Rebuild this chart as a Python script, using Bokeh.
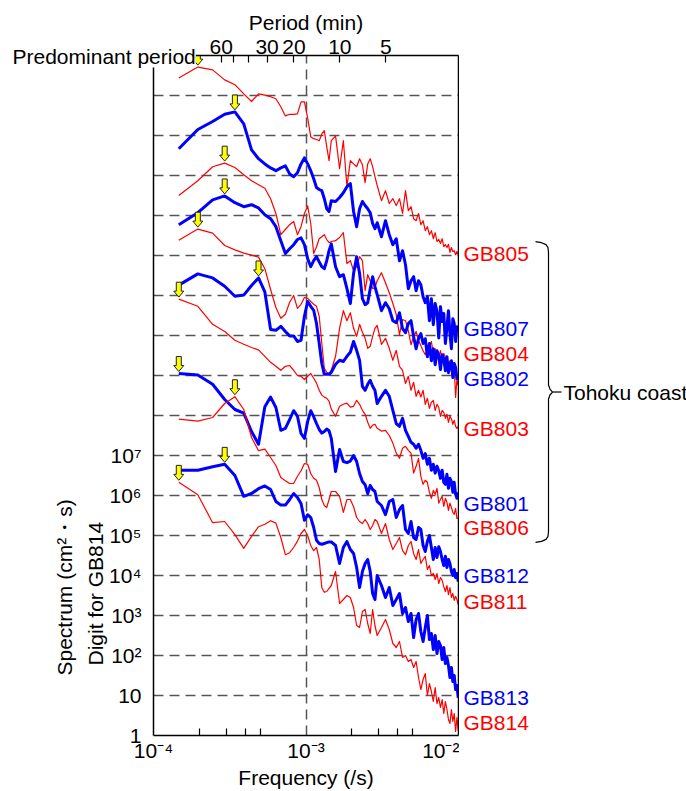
import math
from bokeh.plotting import figure
from bokeh.layouts import row
from bokeh.models import (LogAxis, FixedTicker, CustomJSTickFormatter, Range1d, Title, LogScale)
from bokeh.core.properties import value
from bokeh.embed import file_html
from bokeh.resources import INLINE

# ---------------- data ----------------
DF = 4.8828125e-5  # spectral resolution (1/s)
bins = [3, 4, 5, 6, 7, 8, 9, 10, 11, 12, 13, 14, 15, 16, 17, 18, 19, 20, 21, 22, 23, 24, 25, 26, 27, 28, 29, 30,
        32, 34, 36, 38, 40, 42, 44, 46, 48, 50, 52, 54, 56, 58, 60,
        64, 68, 72, 76, 80, 84, 88, 92, 96, 100, 104, 108, 112, 116, 120, 124, 128, 132, 136, 140,
        144, 148, 152, 156, 160, 164, 168, 172, 176, 180, 184, 188, 192, 196, 200, 204]

# log10 of spectrum (offset per station)
gb805 = [16.44, 16.71, 16.64, 16.39, 16.27, 16.04, 15.85, 16.04, 16.01, 15.97, 15.92, 15.72, 15.49, 15.53, 15.53, 15.54, 15.84, 15.84, 15.44, 14.97, 14.92, 14.90, 14.87, 15.04, 15.12, 14.72, 14.37, 14.87,
         14.99, 14.17, 14.87, 13.72, 14.37, 14.29, 14.22, 14.42, 14.27, 13.82, 14.29, 14.42, 14.22, 13.97, 13.75,
         13.37, 13.62, 13.30, 13.42, 13.25, 13.42, 13.05, 13.62, 13.12, 13.22, 12.92, 12.87, 13.05, 12.77, 12.87, 12.62, 12.72, 12.52, 12.62, 12.42,
         12.57, 12.35, 12.40, 12.30, 12.42, 12.22, 12.27, 12.20, 12.28, 12.08, 12.20, 12.10, 12.12, 12.02, 12.10, 12.02]
gb807 = [14.67, 15.15, 15.35, 15.53, 15.59, 15.29, 14.64, 14.42, 14.29, 14.19, 14.12, 14.19, 14.24, 14.04, 13.97, 14.07, 14.29, 14.44, 14.29, 14.12, 13.92, 13.70, 13.65, 13.62, 13.42, 13.17, 13.10, 13.37,
         13.35, 13.45, 13.57, 13.72, 13.80, 13.10, 12.72, 13.17, 13.35, 13.25, 13.17, 13.07, 12.80, 12.67, 12.82,
         12.47, 12.87, 12.52, 12.27, 12.42, 11.87, 12.12, 11.77, 11.17, 11.37, 11.47, 11.12, 11.37, 11.27, 10.97, 10.82, 10.97, 10.37, 10.92, 10.27,
         10.80, 10.60, 9.94, 10.72, 10.35, 10.55, 9.80, 10.20, 10.62, 10.05, 9.67, 10.42, 10.30, 9.85, 10.22, 10.17]
gb804 = [13.50, 13.87, 14.22, 14.31, 14.20, 14.02, 13.87, 13.77, 13.68, 13.42, 13.05, 12.52, 12.65, 12.77, 12.85, 12.52, 12.72, 13.05, 13.24, 12.80, 12.05, 12.22, 12.42, 12.47, 12.52, 12.40, 12.32, 12.35,
         12.37, 12.45, 12.57, 11.80, 11.87, 11.62, 11.72, 11.97, 11.87, 11.12, 11.52, 11.37, 11.17, 11.20, 11.37,
         11.57, 11.32, 11.07, 10.80, 10.52, 10.02, 10.40, 10.37, 10.12, 9.77, 9.97, 10.10, 9.87, 9.75, 9.62, 9.52, 9.67, 9.77, 9.85, 9.55,
         9.67, 9.42, 9.47, 9.62, 9.37, 9.55, 9.45, 9.30, 9.17, 9.37, 9.12, 8.97, 9.22, 8.45, 8.90, 8.75]
gb802 = [12.77, 13.07, 13.39, 13.49, 13.32, 13.22, 13.27, 13.19, 13.02, 12.92, 12.72, 12.37, 12.05, 12.17, 12.27, 12.40, 12.44, 12.27, 11.92, 11.72, 11.87, 11.97, 11.84, 11.72, 11.67, 11.87, 12.12, 12.29,
         11.72, 11.47, 11.52, 11.17, 10.80, 11.55, 11.97, 11.55, 10.92, 10.77, 10.82, 11.17, 11.47, 11.22, 11.02,
         10.62, 10.82, 10.67, 10.37, 10.32, 10.57, 10.17, 10.07, 10.30, 10.37, 9.97, 9.67, 9.92, 10.05, 9.80, 9.92, 9.47, 9.80, 9.37, 9.67,
         9.27, 9.62, 9.50, 9.15, 9.52, 9.42, 9.12, 9.47, 9.07, 9.25, 9.37, 8.95, 9.30, 9.20, 8.92, 9.02]
gb803 = [12.38, 12.66, 12.56, 12.25, 12.14, 12.06, 12.01, 11.96, 11.67, 11.15, 10.70, 10.43, 10.53, 10.83, 11.00, 10.68, 10.78, 10.95, 10.93, 10.85, 10.78, 10.73, 10.48, 9.80, 9.18, 9.08, 9.05, 9.13,
         9.48, 10.18, 10.62, 10.37, 10.57, 10.18, 9.98, 10.28, 10.08, 9.93, 9.68, 9.73, 9.98, 10.18, 10.25,
         9.78, 9.93, 9.68, 9.38, 9.63, 9.23, 9.13, 8.80, 8.98, 8.63, 8.83, 8.48, 8.63, 8.46, 8.63, 8.28, 8.43, 8.18, 8.33, 8.38,
         8.13, 8.28, 8.20, 7.98, 8.13, 8.08, 7.93, 8.03, 7.83, 7.98, 7.92, 7.78, 7.88, 7.73, 7.68, 7.73]
gb801 = [11.26, 11.54, 11.44, 11.23, 10.98, 11.01, 11.25, 11.44, 11.09, 10.15, 10.13, 10.23, 10.10, 9.99, 9.99, 9.85, 9.88, 10.48, 10.85, 10.73, 10.63, 10.30, 9.80, 9.30, 9.03, 9.03, 9.03, 9.08,
         9.28, 9.38, 9.35, 9.48, 9.58, 9.85, 9.63, 9.38, 8.73, 8.63, 8.78, 8.88, 8.73, 8.63, 8.30,
         8.48, 8.63, 8.48, 8.13, 7.80, 7.73, 7.93, 7.63, 7.48, 7.33, 7.28, 7.18, 7.28, 7.13, 6.93, 7.05, 6.78, 6.93, 6.63, 6.78,
         6.56, 6.73, 6.62, 6.43, 6.63, 6.33, 6.28, 6.53, 6.18, 6.43, 6.35, 6.08, 6.33, 6.03, 5.93, 6.08]
gb806 = [10.91, 10.73, 10.28, 10.10, 9.88, 9.78, 9.70, 9.64, 9.48, 9.33, 9.23, 9.13, 9.23, 9.25, 9.13, 9.00, 8.98, 8.90, 8.98, 9.05, 8.93, 8.81, 8.63, 8.51, 8.46, 8.43, 8.36, 8.16,
         7.98, 8.23, 8.28, 8.31, 8.21, 8.23, 8.38, 8.28, 8.13, 8.03, 7.83, 7.68, 7.76, 7.78, 7.68,
         7.61, 7.63, 7.50, 7.31, 7.06, 6.93, 7.18, 7.23, 7.13, 7.06, 6.56, 6.73, 6.93, 6.48, 6.28, 6.38, 6.33, 6.08, 5.93, 6.13,
         6.03, 6.18, 5.81, 5.90, 5.98, 5.73, 5.93, 5.83, 5.63, 5.81, 5.70, 5.58, 5.53, 5.68, 5.43, 5.43]
gb812 = [9.05, 9.01, 8.78, 8.40, 8.15, 8.06, 7.60, 7.28, 8.22, 8.46, 8.20, 7.63, 7.68, 7.90, 8.12, 7.98, 7.55, 7.43, 7.85, 8.12, 7.97, 7.80, 7.65, 7.56, 7.60, 7.66, 7.62, 7.43,
         6.60, 7.15, 6.85, 6.82, 6.86, 7.00, 6.85, 6.55, 6.35, 6.27, 6.05, 6.25, 6.15, 6.10, 5.85,
         5.75, 5.52, 5.85, 5.90, 5.45, 5.65, 5.75, 5.15, 5.05, 5.35, 4.95, 4.90, 5.20, 5.15, 4.75, 4.60, 4.85, 5.00, 4.70, 4.40,
         4.70, 4.45, 4.72, 4.60, 4.40, 4.25, 4.48, 4.20, 4.40, 4.30, 4.10, 4.00, 4.15, 3.95, 4.05, 3.85]
gb811 = [7.91, 7.86, 7.95, 8.30, 8.47, 8.15, 7.45, 7.12, 7.16, 6.95, 6.75, 6.45, 6.37, 6.30, 6.30, 6.48, 6.62, 6.80, 6.78, 6.55, 6.43, 6.38, 6.20, 5.90, 5.75, 5.70, 5.90, 6.10,
         6.10, 5.98, 5.58, 5.90, 5.90, 5.72, 5.45, 5.35, 5.30, 5.40, 5.30, 5.15, 5.25, 5.40, 5.35,
         5.05, 5.30, 4.90, 4.65, 4.80, 4.95, 4.62, 4.52, 4.75, 4.85, 4.55, 4.40, 4.65, 4.30, 4.40, 4.48, 4.15, 4.25, 4.00, 4.05,
         3.90, 4.05, 3.80, 3.95, 3.88, 3.72, 3.60, 3.75, 3.52, 3.70, 3.45, 3.55, 3.38, 3.48, 3.40, 3.27]
gb813 = [6.63, 6.63, 6.72, 6.78, 6.50, 5.98, 6.05, 6.17, 6.24, 6.15, 5.85, 5.76, 5.76, 5.90, 6.05, 5.95, 5.80, 5.38, 5.52, 5.45, 5.20, 4.88, 4.80, 4.78, 4.80, 4.82, 4.84, 4.84,
         4.75, 4.30, 4.70, 4.85, 4.65, 4.55, 4.20, 3.70, 4.10, 4.30, 4.40, 4.10, 3.55, 3.40, 4.00,
         3.75, 3.45, 3.70, 3.25, 3.40, 3.55, 3.05, 3.20, 2.85, 3.05, 2.45, 2.90, 3.05, 2.60, 2.35, 2.70, 3.00, 2.40, 2.55, 2.15,
         2.50, 2.05, 2.35, 2.25, 1.90, 2.20, 1.80, 1.95, 1.75, 1.45, 1.70, 1.35, 1.50, 1.15, 1.25, 0.94]
gb814 = [6.33, 6.02, 5.32, 5.35, 5.02, 4.68, 4.98, 5.22, 5.28, 5.37, 5.31, 4.95, 4.52, 4.57, 4.70, 4.86, 5.05, 5.15, 5.00, 4.75, 4.62, 4.70, 4.40, 3.70, 3.58, 3.60, 3.68, 3.75,
         4.10, 3.30, 3.40, 3.50, 3.45, 3.20, 2.75, 2.70, 3.10, 3.15, 2.80, 2.55, 3.15, 2.75, 2.50,
         2.70, 2.90, 2.65, 2.30, 2.20, 2.35, 1.95, 2.00, 1.85, 1.90, 1.70, 1.85, 1.45, 1.15, 1.40, 1.55, 1.00, 1.30, 1.10, 0.85,
         1.20, 0.80, 0.95, 0.70, 0.90, 0.55, 0.85, 0.65, 0.40, 0.30, 0.65, 0.35, 0.55, 0.10, 0.45, 0.12]

stations = ["GB805", "GB807", "GB804", "GB802", "GB803", "GB801", "GB806", "GB812", "GB811", "GB813", "GB814"]
series = [gb805, gb807, gb804, gb802, gb803, gb801, gb806, gb812, gb811, gb813, gb814]
kinds = ["red", "blue", "red", "blue", "red", "blue", "red", "blue", "red", "blue", "red"]
peak_bins = [4, 7, 6, 6, 4, 10, 3, 3, 7, 6, 3]  # predominant period bins
period_ticks_min = [60, 50, 40, 30, 20, 10, 5]
period_labels_min = [60, 30, 20, 10, 5]

# ---------------- layout / style ----------------
W, H = 686, 791
FL, FR, FT, FB = 153, 458, 55, 738
W1 = FR + 1
FONT = "Liberation Sans"
FS = "21px"
STYLE = {"red": dict(color="#ff0000", width=1.2), "blue": dict(color="#0000ff", width=3.0)}
label_levels = [12.05, 10.18, 9.56, 8.93, 7.68, 5.81, 5.19, 4.01, 3.36, 0.94, 0.32]


def from_px(X, Y):
    return 10 ** (-4 + 2 * (X - FL) / (FR - FL)), 10 ** (17 * (FB - Y) / (FB - FT))


def to_px(f, v):
    return FL + (math.log10(f) + 4) / 2 * (FR - FL), FB - math.log10(v) / 17 * (FB - FT)


yr = Range1d(1, 1e17)
p = figure(width=W1, height=H, x_axis_type="log", y_axis_type="log",
           x_range=Range1d(1e-4, 1e-2), y_range=yr,
           output_backend="svg", toolbar_location=None,
           min_border_left=FL, min_border_right=W1 - FR, min_border_top=FT, min_border_bottom=H - FB)
p.outline_line_color = None
p.background_fill_color = "white"
p.border_fill_color = "white"

p.ygrid.ticker = FixedTicker(ticks=[10.0 ** n for n in range(1, 17)])
p.xgrid.ticker = FixedTicker(ticks=[1e-3])
for g in (p.xgrid[0], p.ygrid[0]):
    g.grid_line_color = "#555555"
    g.grid_line_dash = "10 6"
    g.grid_line_width = 1.5

sup_code = """
const sup = {'-':'\u207b','0':'\u2070','1':'\u00b9','2':'\u00b2','3':'\u00b3','4':'\u2074','5':'\u2075','6':'\u2076','7':'\u2077','8':'\u2078','9':'\u2079'};
const e = Math.round(Math.log10(tick));
if (e > maxexp) return '';
if (e === 0) return '1';
if (e === 1) return '10';
return '10' + String(e).split('').map(c => sup[c]).join('');
"""


def style_axis(ax):
    ax.axis_line_color = "black"
    ax.axis_line_width = 1.5
    ax.major_tick_line_color = "black"
    ax.minor_tick_line_color = "black"
    ax.major_tick_line_width = 1.2
    ax.minor_tick_line_width = 1.2
    ax.major_label_text_font = FONT
    ax.major_label_text_font_size = FS
    ax.major_label_text_color = "black"
    ax.axis_label_text_font = FONT
    ax.axis_label_text_font_size = FS
    ax.axis_label_text_font_style = "normal"
    ax.axis_label_text_color = "black"


xb = p.xaxis[0]
style_axis(xb)
xb.ticker = FixedTicker(ticks=[1e-4, 1e-3, 1e-2], minor_ticks=[2e-4, 3e-4, 4e-4, 5e-4, 2e-3, 3e-3, 4e-3, 5e-3])
xb.formatter = CustomJSTickFormatter(args=dict(maxexp=99), code=sup_code)
xb.major_tick_in, xb.major_tick_out = 0, 0
xb.minor_tick_in, xb.minor_tick_out = 7, 0
xb.major_label_standoff = 3
xb.axis_label = "Frequency (/s)"
xb.axis_label_standoff = 1

yl = p.yaxis[0]
style_axis(yl)
yl.ticker = FixedTicker(ticks=[10.0 ** n for n in range(0, 18)])
yl.formatter = CustomJSTickFormatter(args=dict(maxexp=7), code=sup_code)
yl.major_tick_in, yl.major_tick_out = 0, 0
yl.minor_tick_in, yl.minor_tick_out = 0, 0
yl.major_label_standoff = 12

top = LogAxis(ticker=FixedTicker(ticks=[1 / (60.0 * T) for T in period_ticks_min]),
              formatter=CustomJSTickFormatter(args=dict(labeled=period_labels_min),
                                              code="const T = Math.round(1/(60*tick)); return labeled.includes(T) ? String(T) : '';"),
              axis_label="Period (min)")
style_axis(top)
top.major_tick_in, top.major_tick_out = 7, 0
top.minor_tick_in, top.minor_tick_out = 0, 0
top.major_label_standoff = 2
top.axis_label_standoff = 3
p.add_layout(top, "above")

right = LogAxis(ticker=FixedTicker(ticks=[]))
style_axis(right)
right.major_tick_in, right.major_tick_out = 0, 0
right.minor_tick_in, right.minor_tick_out = 0, 0
right.major_label_text_font_size = "0px"
p.add_layout(right, "right")

# spectra
freqs = [k * DF for k in bins]
for vals, kind in zip(series, kinds):
    st = STYLE[kind]
    p.line(freqs, [10 ** v for v in vals], line_color=st["color"], line_width=st["width"],
           line_join="round")

# predominant-period arrows
ARROW = [(0, -2), (-5, -8), (-2.5, -8), (-2.5, -17), (2.5, -17), (2.5, -8), (5, -8)]
axs, ays = [], []
for vals, kb in zip(series, peak_bins):
    i = bins.index(kb)
    X, Y = to_px(kb * DF, 10 ** vals[i])
    pts = [from_px(X + dx, Y + dy) for dx, dy in ARROW]
    axs.append([q[0] for q in pts])
    ays.append([q[1] for q in pts])
p.patches(axs, ays, fill_color="#ffff00", line_color="#222222", line_width=1)

# titles placed in side panels (not clipped)
p.add_layout(Title(text="Digit for GB814", align="left", offset=70, standoff=0,
                   vertical_align="bottom", text_font=FONT, text_font_size=FS,
                   text_font_style="normal", text_color="black"), "left")
p.add_layout(Title(text="Spectrum (cm\u00b2\u30fbs)", align="left", offset=60, standoff=12,
                   vertical_align="bottom", text_font=FONT, text_font_size=FS,
                   text_font_style="normal", text_color="black"), "left")
p.add_layout(Title(text="Predominant period", align="left", offset=-141, standoff=-120,
                   vertical_align="bottom", text_font=FONT, text_font_size=FS,
                   text_font_style="normal", text_color="black",
                   background_fill_color="white"), "above")

# ---------------- right-hand annotations ----------------
p2 = figure(width=W - W1, height=H, x_range=Range1d(W1, W), y_range=yr,
            output_backend="svg", toolbar_location=None,
            x_axis_location=None, y_axis_location=None,
            min_border_left=0, min_border_right=0, min_border_top=FT, min_border_bottom=H - FB)
p2.y_scale = LogScale()
p2.outline_line_color = None
p2.grid.visible = False
p2.background_fill_color = "white"
p2.border_fill_color = "white"

p2.text(x=[463] * len(stations), y=[10 ** lv for lv in label_levels], text=stations,
        text_color=[STYLE[k]["color"] for k in kinds], text_font=value(FONT),
        text_font_size=value(FS), text_baseline="middle", text_align="left")

br_px = [(535, 242), (541, 243), (545.5, 245), (547.5, 248), (548, 253), (548, 386), (549.5, 390),
         (552, 393), (549.5, 396), (548, 400), (548, 533), (547.5, 538), (545.5, 541), (541, 543), (535, 544)]
p2.line([x for x, _ in br_px], [from_px(0, y)[1] for _, y in br_px], line_color="black", line_width=1.2)
p2.line([552, 561], [from_px(0, 393)[1]] * 2, line_color="black", line_width=1.2)
p2.text(x=[563], y=[from_px(0, 393)[1]], text=["Tohoku coast"], text_font=value(FONT),
        text_font_size=value(FS), text_baseline="middle", text_align="left")

layout = row(p, p2, spacing=0)
open("out.html", "w").write(file_html(layout, INLINE))
